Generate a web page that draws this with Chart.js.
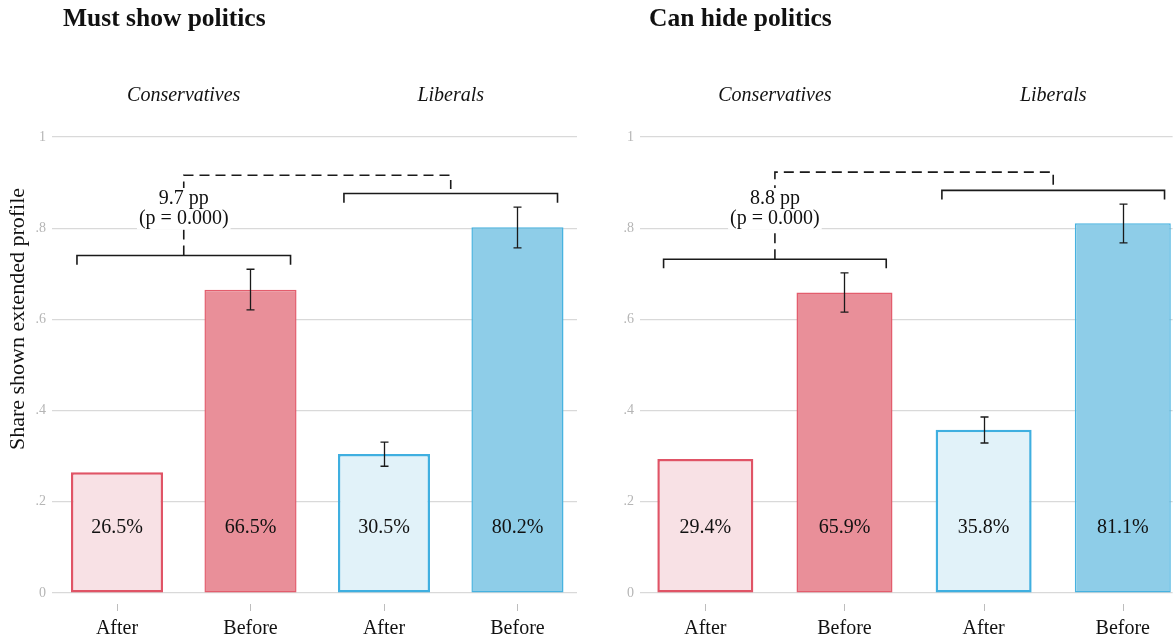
<!DOCTYPE html>
<html>
<head>
<meta charset="utf-8">
<script src="https://cdn.jsdelivr.net/npm/chart.js@4.4.1/dist/chart.umd.min.js"></script>
<style>
  html, body { margin: 0; padding: 0; background: #ffffff; }
  #wrap { position: relative; width: 1174px; height: 640px; overflow: hidden; }
  canvas { position: absolute; top: 0; }
  #leftPanel { left: 0; }
  #rightPanel { left: 587px; }
</style>
</head>
<body>
<div id="wrap">
  <canvas id="leftPanel" width="587" height="640"></canvas>
  <canvas id="rightPanel" width="587" height="640"></canvas>
</div>
<script>
// ---- Data ----------------------------------------------------------------
const categories = ['After', 'Before', 'After', 'Before'];
const groups = ['Conservatives', 'Liberals'];
const yTicks = [0, 0.2, 0.4, 0.6, 0.8, 1];

// Share shown the extended profile, with 95% intervals (first bar has none drawn)
const mustShowShares = [0.265, 0.665, 0.305, 0.802];
const mustShowLow    = [null, 0.621, 0.278, 0.757];
const mustShowHigh   = [null, 0.710, 0.331, 0.846];

const canHideShares  = [0.294, 0.659, 0.358, 0.811];
const canHideLow     = [null, 0.616, 0.329, 0.768];
const canHideHigh    = [null, 0.702, 0.386, 0.853];

// Difference-in-differences annotations
const mustShowDiff = '9.7 pp';
const canHideDiff  = '8.8 pp';
const mustShowP    = '(p = 0.000)';
const canHideP     = '(p = 0.000)';

// ---- Styling -------------------------------------------------------------
const SERIF = "'Liberation Serif', 'Times New Roman', 'DejaVu Serif', serif";
const fills   = ['#f8e1e5', '#e98f99', '#e1f2f9', '#8ecde8'];
const borders = ['#e05466', '#e35d6d', '#3fafe0', '#47b2e0'];
const borderWidths = [2.5, 1.5, 2.5, 1.5];
const INK = '#1a1a1a';

function fmtTick(v) {
  if (v === 0) return '0';
  if (v === 1) return '1';
  return ('' + Math.round(v * 10) / 10).replace(/^0/, '');
}

// Draws intervals, in-bar labels, brackets and text around the plot
const decorations = {
  id: 'decorations',
  afterDatasetsDraw(chart, args, opts) {
    const ctx = chart.ctx;
    const xs = chart.scales.x, ys = chart.scales.y;
    const area = chart.chartArea;
    const X = v => xs.getPixelForValue(v);
    const Y = v => ys.getPixelForValue(v);
    ctx.save();

    // error bars
    ctx.strokeStyle = INK;
    ctx.lineWidth = 1.3;
    opts.low.forEach((lo, i) => {
      const hi = opts.high[i];
      if (lo == null || hi == null) return;
      const cx = Math.round(X(i + 1)) + 0.5;
      const y1 = Y(lo), y2 = Y(hi);
      ctx.beginPath();
      ctx.moveTo(cx, y1); ctx.lineTo(cx, y2);
      ctx.moveTo(cx - 4, y1); ctx.lineTo(cx + 4, y1);
      ctx.moveTo(cx - 4, y2); ctx.lineTo(cx + 4, y2);
      ctx.stroke();
    });

    // value labels inside the bars
    ctx.fillStyle = '#111';
    ctx.font = '20px ' + SERIF;
    ctx.textAlign = 'center';
    ctx.textBaseline = 'middle';
    opts.shares.forEach((v, i) => {
      ctx.fillText((v * 100).toFixed(1) + '%', X(i + 1), Y(0.143));
    });

    // brackets over each group and the dashed comparison link
    const consLevel = Math.max(...opts.high.slice(0, 2).filter(v => v != null)) + 0.03;
    const libLevel  = Math.max(...opts.high.slice(2, 4).filter(v => v != null)) + 0.03;
    const topLevel  = libLevel + 0.04;
    const drop = 0.02;
    ctx.lineWidth = 1.6;
    ctx.strokeStyle = INK;
    ctx.setLineDash([]);
    [[0.7, 2.3, consLevel], [2.7, 4.3, libLevel]].forEach(([a, b, lvl]) => {
      ctx.beginPath();
      ctx.moveTo(X(a), Y(lvl - drop));
      ctx.lineTo(X(a), Y(lvl));
      ctx.lineTo(X(b), Y(lvl));
      ctx.lineTo(X(b), Y(lvl - drop));
      ctx.stroke();
    });
    ctx.setLineDash([10, 6]);
    ctx.beginPath();
    ctx.moveTo(X(1.5), Y(consLevel));
    ctx.lineTo(X(1.5), Y(topLevel));
    ctx.lineTo(X(3.5), Y(topLevel));
    ctx.lineTo(X(3.5), Y(libLevel + 0.01));
    ctx.stroke();
    ctx.setLineDash([]);

    // difference text with a white backing over the dashed line
    ctx.font = '20px ' + SERIF;
    const t1y = Y(0.864), t2y = Y(0.821);
    const w = Math.max(ctx.measureText(opts.diff).width, ctx.measureText(opts.p).width);
    ctx.fillStyle = '#ffffff';
    ctx.fillRect(X(1.5) - w / 2 - 2, t1y - 11, w + 4, (t2y - t1y) + 22);
    ctx.fillStyle = '#111';
    ctx.fillText(opts.diff, X(1.5), t1y);
    ctx.fillText(opts.p, X(1.5), t2y);

    // group headings
    ctx.font = 'italic 20px ' + SERIF;
    ctx.fillText(groups[0], X(1.5), 96);
    ctx.fillText(groups[1], X(3.5), 96);

    // panel title
    ctx.font = 'bold 25.5px ' + SERIF;
    ctx.textAlign = 'left';
    ctx.fillText(opts.title, opts.titleX, 19);

    // small tick marks under the bars
    ctx.strokeStyle = '#bdbdbd';
    ctx.lineWidth = 1;
    categories.forEach((c, i) => {
      const cx = Math.round(X(i + 1)) + 0.5;
      ctx.beginPath();
      ctx.moveTo(cx, area.bottom + 11);
      ctx.lineTo(cx, area.bottom + 18);
      ctx.stroke();
    });

    // y-axis title
    if (opts.yTitle) {
      ctx.translate(18, 319);
      ctx.rotate(-Math.PI / 2);
      ctx.textAlign = 'center';
      ctx.fillStyle = '#111';
      ctx.font = '22px ' + SERIF;
      ctx.fillText(opts.yTitle, 0, 0);
    }
    ctx.restore();
  }
};

function makePanel(canvasId, shares, low, high, diff, p, title, layout) {
  return new Chart(document.getElementById(canvasId), {
    type: 'bar',
    data: {
      datasets: [{
        data: shares.map((v, i) => ({ x: i + 1, y: v })),
        backgroundColor: fills,
        borderColor: borders,
        borderWidth: borderWidths,
        borderSkipped: false,
        categoryPercentage: 1,
        barPercentage: 0.69
      }]
    },
    options: {
      responsive: false,
      animation: false,
      devicePixelRatio: 1,
      layout: { padding: { top: 137, bottom: 0, left: 0, right: layout.padRight } },
      plugins: {
        legend: { display: false },
        tooltip: { enabled: false },
        decorations: { shares, low, high, diff, p, title, titleX: layout.titleX, yTitle: layout.yTitle }
      },
      scales: {
        x: {
          type: 'linear',
          offset: false,
          min: layout.xMin,
          max: layout.xMax,
          grid: { display: false, drawTicks: false, offset: false },
          border: { display: false },
          afterBuildTicks: s => { s.ticks = categories.map((c, i) => ({ value: i + 1 })); },
          afterFit: s => { s.height = 47; },
          ticks: {
            autoSkip: false,
            maxRotation: 0,
            padding: 24,
            color: '#111',
            font: { family: SERIF, size: 20 },
            callback: v => categories[v - 1]
          }
        },
        y: {
          min: 0,
          max: 1,
          afterBuildTicks: s => { s.ticks = yTicks.map(v => ({ value: v })); },
          afterFit: s => { s.width = layout.yWidth; },
          grid: { color: '#d9d9d9', lineWidth: 1.2, drawTicks: false },
          border: { display: false },
          ticks: {
            padding: 6,
            color: '#b5b5b5',
            font: { family: SERIF, size: 14 },
            callback: v => fmtTick(v)
          }
        }
      }
    },
    plugins: [decorations]
  });
}

makePanel('leftPanel', mustShowShares, mustShowLow, mustShowHigh, mustShowDiff, mustShowP,
  'Must show politics',
  { padRight: 10, yWidth: 52, xMin: 0.513, xMax: 4.446, titleX: 63, yTitle: 'Share shown extended profile' });

makePanel('rightPanel', canHideShares, canHideLow, canHideHigh, canHideDiff, canHideP,
  'Can hide politics',
  { padRight: 0, yWidth: 53, xMin: 0.5305, xMax: 4.358, titleX: 62, yTitle: null });
</script>
</body>
</html>
